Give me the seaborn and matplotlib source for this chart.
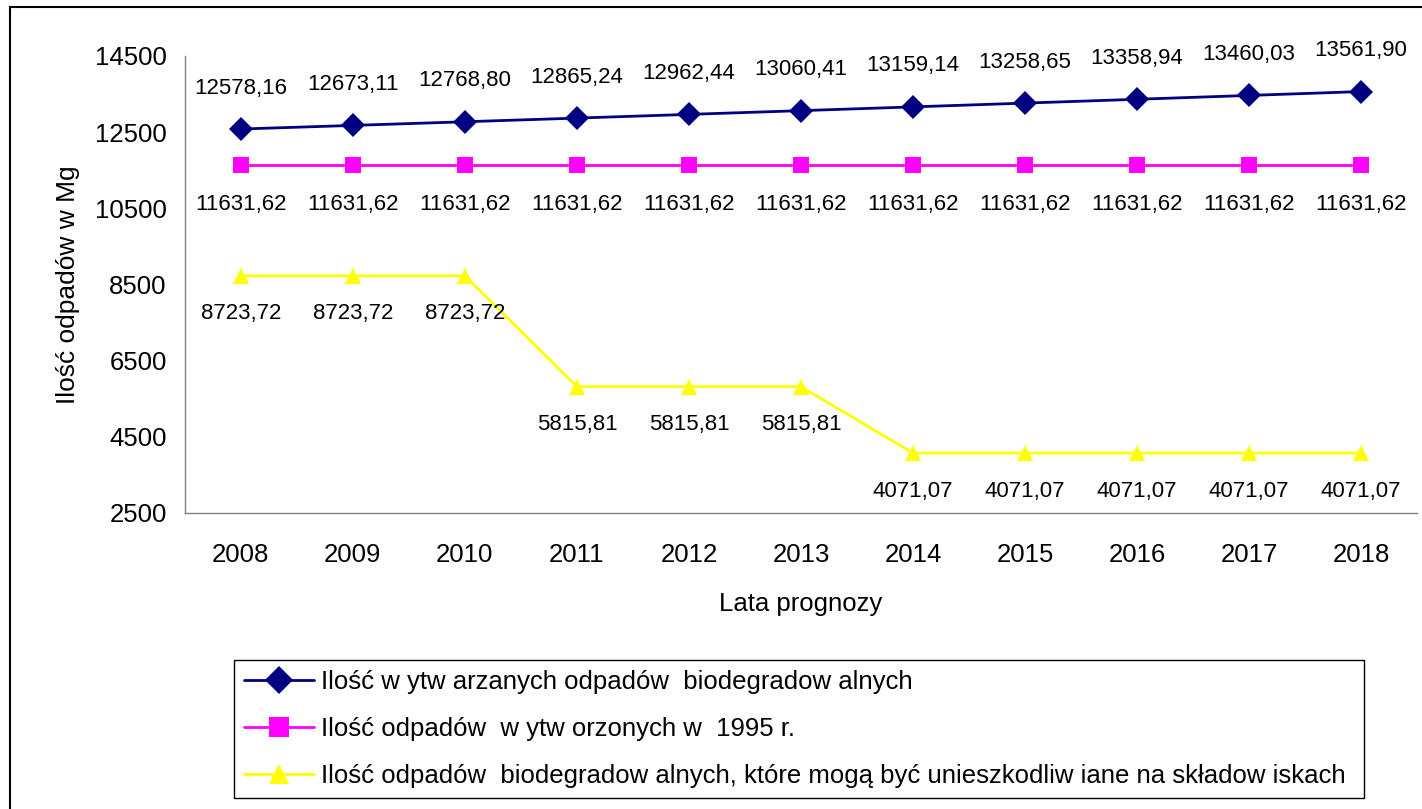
import pandas as pd
import matplotlib.pyplot as plt
import seaborn as sns
from matplotlib.patches import Rectangle

years = ['2008', '2009', '2010', '2011', '2012', '2013', '2014', '2015', '2016', '2017', '2018']
wytwarzane = [12578.16, 12673.11, 12768.80, 12865.24, 12962.44, 13060.41, 13159.14, 13258.65, 13358.94, 13460.03, 13561.90]
z_1995 = [11631.62] * 11
skladowiska = [8723.72, 8723.72, 8723.72, 5815.81, 5815.81, 5815.81, 4071.07, 4071.07, 4071.07, 4071.07, 4071.07]

labels = [
    'Ilość w ytw arzanych odpadów  biodegradow alnych',
    'Ilość odpadów  w ytw orzonych w  1995 r.',
    'Ilość odpadów  biodegradow alnych, które mogą być unieszkodliw iane na składow iskach',
]
colors = ['#000080', '#FF00FF', '#FFFF00']
markers = ['D', 's', '^']

sns.set_style('white')
plt.rcParams['font.family'] = ['Liberation Sans', 'DejaVu Sans']
plt.rcParams['text.color'] = 'black'
plt.rcParams['axes.labelcolor'] = 'black'
plt.rcParams['xtick.color'] = 'black'
plt.rcParams['ytick.color'] = 'black'

pos = list(range(len(years)))
df = pd.concat([
    pd.DataFrame({'x': pos, 'y': vals, 'seria': lab})
    for vals, lab in zip([wytwarzane, z_1995, skladowiska], labels)
])

fig = plt.figure(figsize=(14.22, 8.09), dpi=100)
ax = fig.add_axes([0.130, 0.366, 0.8665, 0.565])

sns.lineplot(data=df, x='x', y='y', hue='seria', style='seria', palette=colors,
             markers=markers, dashes=False, markersize=12, linewidth=2,
             markeredgewidth=0, ax=ax, legend=True)

# etykiety danych
for vals, off in [(wytwarzane, 41), (z_1995, -39), (skladowiska, -38)]:
    for x, v in zip(pos, vals):
        txt = f'{v:.2f}'.replace('.', ',')
        ax.annotate(txt, (x, v), xytext=(0, off), textcoords='offset pixels',
                    ha='center', va='center', fontsize=16)

ax.set_xlim(-0.5, len(years) - 0.5)
ax.set_ylim(2500, 14500)
ax.set_yticks([2500, 4500, 6500, 8500, 10500, 12500, 14500])
ax.set_xticks([p - 0.5 for p in pos] + [len(years) - 0.5])
ax.set_xticklabels([])
ax.set_xticks(pos, minor=True)
ax.set_xticklabels(years, minor=True)
ax.tick_params(axis='x', which='minor', length=0, pad=22, labelsize=18.5)
ax.tick_params(axis='x', which='major', length=6, direction='in', color='#808080')
ax.tick_params(axis='y', length=6, direction='out', color='#808080', labelsize=18.5, pad=7)
ax.set_xlabel('Lata prognozy', fontsize=18.5, labelpad=18)
ax.set_ylabel('Ilość odpadów w Mg', fontsize=19, labelpad=11)

for s in ['top', 'right']:
    ax.spines[s].set_visible(False)
for s in ['left', 'bottom']:
    ax.spines[s].set_color('#808080')
    ax.spines[s].set_linewidth(1)

handles, labs = ax.get_legend_handles_labels()
ax.legend_.remove()
leg = fig.legend(handles, labs, loc='upper left',
                 bbox_to_anchor=(234 / 1422, 1 - 804 / 809, (1364 - 234) / 1422, (804 - 660) / 809),
                 mode='expand', fontsize=18.5, frameon=True, fancybox=False, framealpha=1,
                 edgecolor='black', handlelength=2.7, borderpad=0.4, labelspacing=0.88,
                 handletextpad=0.3, borderaxespad=0, markerscale=1.15)
leg.get_frame().set_linewidth(1)

fig.patches.append(Rectangle((10 / 1422, -0.1), 1.1, 1.1 - 7 / 809, transform=fig.transFigure,
                             fill=False, edgecolor='black', linewidth=1.5))

fig.savefig('out.png', dpi=100)
